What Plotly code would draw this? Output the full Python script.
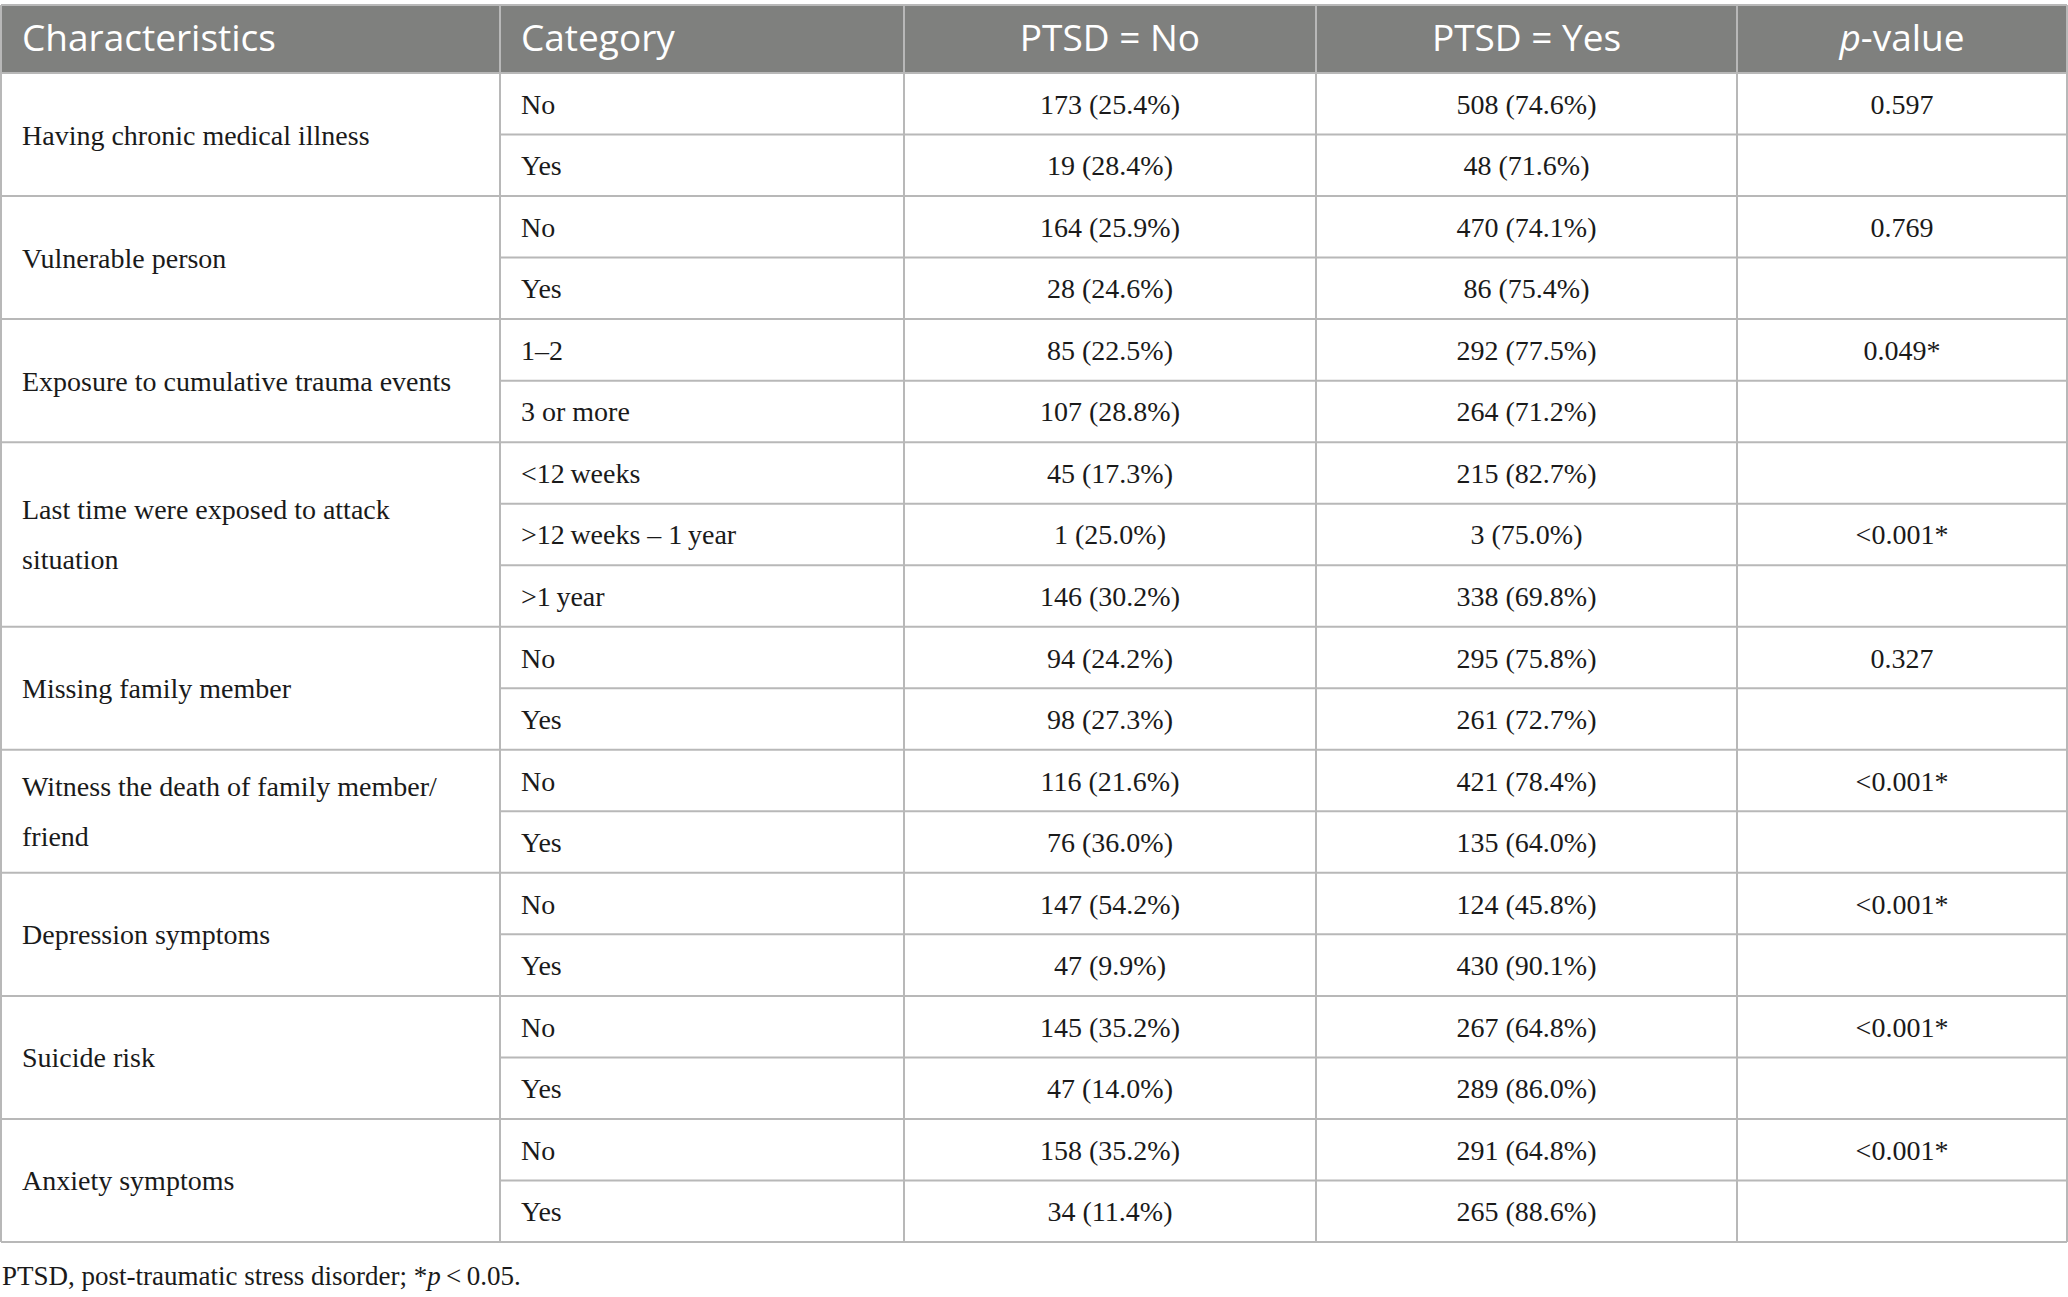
import plotly.graph_objects as go

# table content
headers = ["Characteristics", "Category", "PTSD = No", "PTSD = Yes", "<i>p</i>-value"]
characteristics = ["Having chronic medical illness", "Vulnerable person",
                   "Exposure to cumulative trauma events",
                   "Last time were exposed to attack<br>situation",
                   "Missing family member",
                   "Witness the death of family member/<br>friend",
                   "Depression symptoms", "Suicide risk", "Anxiety symptoms"]
group_size = [2, 2, 2, 3, 2, 2, 2, 2, 2]
categories = ["No", "Yes", "No", "Yes", "1\u20132", "3 or more",
              "&lt;12\u2009weeks", "&gt;12\u2009weeks \u2013 1\u2009year", "&gt;1\u2009year",
              "No", "Yes", "No", "Yes", "No", "Yes", "No", "Yes", "No", "Yes"]
no_n = [173, 19, 164, 28, 85, 107, 45, 1, 146, 94, 98, 116, 76, 147, 47, 145, 47, 158, 34]
no_pct = [25.4, 28.4, 25.9, 24.6, 22.5, 28.8, 17.3, 25.0, 30.2, 24.2, 27.3, 21.6, 36.0,
          54.2, 9.9, 35.2, 14.0, 35.2, 11.4]
yes_n = [508, 48, 470, 86, 292, 264, 215, 3, 338, 295, 261, 421, 135, 124, 430, 267, 289, 291, 265]
yes_pct = [74.6, 71.6, 74.1, 75.4, 77.5, 71.2, 82.7, 75.0, 69.8, 75.8, 72.7, 78.4, 64.0,
           45.8, 90.1, 64.8, 86.0, 64.8, 88.6]
p_values = ["0.597", "", "0.769", "", "0.049*", "", "", "&lt;0.001*", "", "0.327", "",
            "&lt;0.001*", "", "&lt;0.001*", "", "&lt;0.001*", "", "&lt;0.001*", ""]
footnote = "PTSD, post-traumatic stress disorder; *<i>p</i>\u2009&lt;\u20090.05."

# geometry (axis units = pixels)
W, H = 2068, 1297
edges = [1, 500, 904, 1316, 1737, 2067]
head_top, head_bot, table_bot = 5, 73, 1242
row_h = (table_bot - head_bot) / len(categories)
pad = 21
nudge = 3  # text sits a little low in its cell
line_col = "#b8b8b8"
head_col = "#7f807e"
serif = dict(family="Liberation Serif", size=28, color="#1a1a1a")
sans = dict(family="Open Sans", size=37, color="white")

def row_mid(i):
    return head_bot + (i + 0.5) * row_h + nudge

fig = go.Figure()

# header
head_y = (head_top + head_bot) / 2 + nudge
fig.add_trace(go.Scatter(x=[edges[0] + pad, edges[1] + pad], y=[head_y, head_y], mode="text",
                         text=headers[:2], textposition="middle right", textfont=sans,
                         hoverinfo="skip"))
centers = [(edges[k] + edges[k + 1]) / 2 for k in range(5)]
fig.add_trace(go.Scatter(x=centers[2:], y=[head_y] * 3, mode="text",
                         text=headers[2:], textposition="middle center", textfont=sans,
                         hoverinfo="skip"))

# characteristics (merged cells, multi-line labels placed line by line)
cx, cy, ct = [], [], []
start = 0
for label, n in zip(characteristics, group_size):
    mid = head_bot + (start + n / 2) * row_h + nudge
    parts = label.split("<br>")
    for j, part in enumerate(parts):
        cx.append(edges[0] + pad)
        cy.append(mid + (j - (len(parts) - 1) / 2) * 50)
        ct.append(part)
    start += n
fig.add_trace(go.Scatter(x=cx, y=cy, mode="text", text=ct, textposition="middle right",
                         textfont=serif, hoverinfo="skip"))

rows = list(range(len(categories)))
ys = [row_mid(i) for i in rows]
fig.add_trace(go.Scatter(x=[edges[1] + pad] * len(rows), y=ys, mode="text", text=categories,
                         textposition="middle right", textfont=serif, hoverinfo="skip"))
no_txt = [f"{a} ({b:.1f}%)" for a, b in zip(no_n, no_pct)]
yes_txt = [f"{a} ({b:.1f}%)" for a, b in zip(yes_n, yes_pct)]
for k, txt in [(2, no_txt), (3, yes_txt), (4, p_values)]:
    fig.add_trace(go.Scatter(x=[centers[k]] * len(rows), y=ys, mode="text", text=txt,
                             textposition="middle center", textfont=serif, hoverinfo="skip"))

# grid lines
shapes = [dict(type="rect", x0=edges[0], x1=edges[-1], y0=head_top, y1=head_bot,
               fillcolor=head_col, line=dict(width=0), layer="below")]
for e in edges:
    shapes.append(dict(type="line", x0=e, x1=e, y0=head_top, y1=table_bot,
                       line=dict(color=line_col, width=2)))
group_ends = []
s = 0
for n in group_size:
    s += n
    group_ends.append(s)
for i in range(len(categories) + 1):
    y = head_bot + i * row_h
    x0 = edges[0] if (i == 0 or i in group_ends) else edges[1]
    shapes.append(dict(type="line", x0=x0, x1=edges[-1], y0=y, y1=y,
                       line=dict(color=line_col, width=2)))
shapes.append(dict(type="line", x0=edges[0], x1=edges[-1], y0=head_top, y1=head_top,
                   line=dict(color=line_col, width=2)))

fig.update_layout(
    width=W, height=H, margin=dict(l=0, r=0, t=0, b=0),
    plot_bgcolor="white", paper_bgcolor="white", showlegend=False,
    shapes=shapes,
    xaxis=dict(range=[0, W], visible=False, fixedrange=True),
    yaxis=dict(range=[H, 0], visible=False, fixedrange=True),
    annotations=[dict(text=footnote, x=0, y=1276, xref="x", yref="y", xanchor="left",
                      yanchor="middle", showarrow=False,
                      font=dict(family="Liberation Serif", size=27, color="#1a1a1a"))],
)

# page body has a default margin; drop it so the figure fills the window
fig.write_html("out.html", config={"displayModeBar": False},
               post_script="document.body.style.margin='0';")
